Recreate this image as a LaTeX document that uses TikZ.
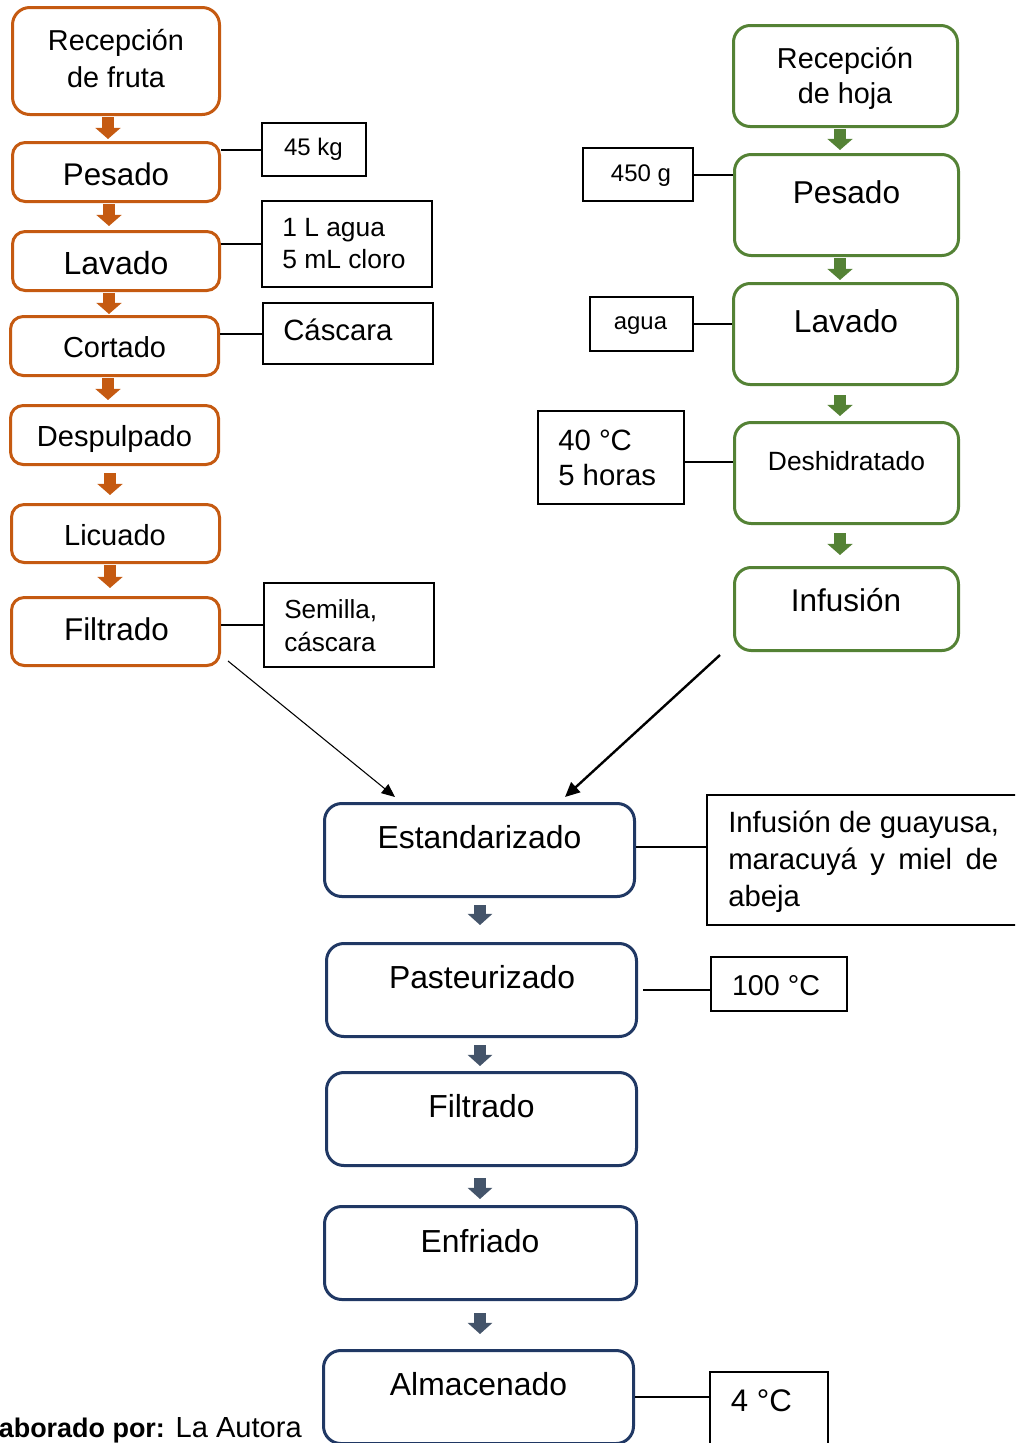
\documentclass[tikz,border=0pt]{standalone}
\usepackage{fontspec}
\setmainfont{Liberation Sans}
\usetikzlibrary{arrows.meta,calc}
\definecolor{ocol}{HTML}{C55A11}
\definecolor{gcol}{HTML}{548235}
\definecolor{bcol}{HTML}{203864}
\definecolor{barcol}{HTML}{44546A}
\tikzset{
  sz/.style 2 args={minimum width={(#1)*0.75pt}, minimum height={(#2)*0.75pt}},
  obox/.style={draw=ocol, line width=2.25pt, rounded corners=9.5pt, inner sep=0pt},
  gbox/.style={draw=gcol, line width=2.25pt, rounded corners=12.5pt, inner sep=0pt},
  bbox/.style={draw=bcol, line width=2.25pt, rounded corners=13pt, inner sep=0pt},
  sbox/.style={draw=black, line width=1.2pt, inner sep=0pt},
  tc/.style={inner sep=0pt, anchor=base},
  tw/.style={inner sep=0pt, anchor=base west},
  fsz/.style={font=\fontsize{#1}{#1}\selectfont},
  link/.style={draw=black, line width=1.5pt},
  oarr/.style={draw=ocol, line width=8.6pt, -{Triangle[width=18.5pt,length=8.3pt]}},
  garr/.style={draw=gcol, line width=8.6pt, -{Triangle[width=18.5pt,length=8.3pt]}},
  barr/.style={draw=barcol, line width=8.6pt, -{Triangle[width=18pt,length=8.3pt]}},
  thinarr/.style={draw=black, line width=0.8pt, -{Triangle[length=10pt,width=8.5pt]}},
  thickarr/.style={draw=black, line width=1.8pt, -{Triangle[length=11pt,width=10pt]}}
}
\begin{document}
\begin{tikzpicture}[x=0.75pt,y=-0.75pt]
\path[use as bounding box] (0,0) rectangle (1015,1443);
\clip (0,0) rectangle (1015,1443);

% ---------- orange column ----------
\node[obox, sz={207}{107}, rounded corners=13pt] (rf) at (116,61) {};
\node[obox, sz={207}{59}] (pf) at (116,172) {};
\node[obox, sz={207}{59}] (lf) at (116,261) {};
\node[obox, sz={208}{59}] (cf) at (114.5,346) {};
\node[obox, sz={208}{59}] (df) at (114.5,435) {};
\node[obox, sz={208}{58}] (lif) at (115.5,533.5) {};
\node[obox, sz={208}{68}] (ff) at (115.5,631.5) {};

\node[tc, fsz=21.6] at (116,50) {Recepción};
\node[tc, fsz=21.6] at (116,87) {de fruta};
\node[tc, fsz=23.5] at (116,185) {Pesado};
\node[tc, fsz=24] at (116,274) {Lavado};
\node[tc, fsz=21.7] at (114.5,357) {Cortado};
\node[tc, fsz=21.8] at (114.5,446) {Despulpado};
\node[tc, fsz=21.8] at (115,545) {Licuado};
\node[tc, fsz=23.6] at (116.5,640) {Filtrado};

\draw[oarr] ($(rf.south)+(-8,1)$) -- ($(pf.north)+(-8,-2)$);
\draw[oarr] ($(pf.south)+(-7,1)$) -- ($(lf.north)+(-7,-4)$);
\draw[oarr] ($(lf.south)+(-7,1)$) -- ($(cf.north)+(-5.5,-1)$);
\draw[oarr] ($(cf.south)+(-6.5,1)$) -- ($(df.north)+(-6.5,-4)$);
\draw[oarr] ($(df.south)+(-4.5,7)$) -- ($(lif.north)+(-5.5,-8)$);
\draw[oarr] ($(lif.south)+(-5.5,1)$) -- ($(ff.north)+(-5.5,-8)$);

% side boxes left
\node[sbox, sz={104}{53}] (s45) at (314,149.5) {};
\node[sbox, sz={170}{86}] (sw) at (347,244) {};
\node[sbox, sz={170}{61}] (sc) at (348,333.5) {};
\node[sbox, sz={170}{84}] (ss) at (349,625) {};

\node[tc, fsz=18] at (313.5,155) {45 kg};
\node[tw, fsz=19.8] at (282,236) {1 L agua};
\node[tw, fsz=19.8] at (282,268) {5 mL cloro};
\node[tw, fsz=22] at (283,340) {Cáscara};
\node[tw, fsz=19.6] at (284,618) {Semilla,};
\node[tw, fsz=19.6] at (284,651.7) {cáscara};

\draw[link] (s45.west) -- (s45.west -| pf.east);
\draw[link] (sw.west) -- (sw.west -| lf.east);
\draw[link] (sc.west) -- (sc.west -| cf.east);
\draw[link] (ss.west) -- (ss.west -| ff.east);

% ---------- green column ----------
\node[gbox, sz={224}{101}] (rh) at (845.5,76) {};
\node[gbox, sz={224}{101}] (ph) at (846.5,205) {};
\node[gbox, sz={224}{101}] (lh) at (845.5,334) {};
\node[gbox, sz={224}{101}] (dh) at (846.5,473) {};
\node[gbox, sz={224}{83}] (ih) at (846.5,609) {};

\node[tc, fsz=21.6] at (845,68.3) {Recepción};
\node[tc, fsz=21.6] at (845,103.3) {de hoja};
\node[tc, fsz=23.7] at (846.5,203.3) {Pesado};
\node[tc, fsz=23.8] at (846,332.7) {Lavado};
\node[tc, fsz=19.8] at (846.5,470.7) {Deshidratado};
\node[tc, fsz=23.6] at (846,611.7) {Infusión};

\draw[garr] ($(rh.south)+(-5.5,1)$) -- ($(ph.north)+(-6.5,-3)$);
\draw[garr] ($(ph.south)+(-6.5,1)$) -- ($(lh.north)+(-5.5,-2)$);
\draw[garr] ($(lh.south)+(-5.5,9)$) -- ($(dh.north)+(-6.5,-5)$);
\draw[garr] ($(dh.south)+(-6.5,8)$) -- ($(ih.north)+(-6.5,-11)$);

% side boxes right
\node[sbox, sz={110}{53}] (s450) at (638,174.5) {};
\node[sbox, sz={103}{54}] (sa) at (641.5,324) {};
\node[sbox, sz={146}{93}] (s40) at (611,457.5) {};

\node[tc, fsz=18] at (641,181.7) {450 g};
\node[tc, fsz=17.9] at (640.5,329.3) {agua};
\node[tw, fsz=22] at (558,450) {40 °C};
\node[tw, fsz=22] at (558,485) {5 horas};

\draw[link] (s450.east) -- (s450.east -| ph.west);
\draw[link] (sa.east) -- (sa.east -| lh.west);
\coordinate (c40) at ($(s40.east)+(0,4.5)$);
\draw[link] (c40) -- (c40 -| dh.west);

% ---------- blue column ----------
\node[bbox, sz={310}{93}] (es) at (479.5,850) {};
\node[bbox, sz={310}{93}] (pa) at (481.5,990) {};
\node[bbox, sz={310}{93}] (fi) at (481.5,1119) {};
\node[bbox, sz={312}{93}] (en) at (480.5,1253) {};
\node[bbox, sz={310}{93}] (al) at (478.5,1397) {};

\node[tc, fsz=23.9] at (479.5,848.3) {Estandarizado};
\node[tc, fsz=23.9] at (482,988.5) {Pasteurizado};
\node[tc, fsz=23.9] at (481.5,1117.5) {Filtrado};
\node[tc, fsz=23.9] at (480,1252.3) {Enfriado};
\node[tc, fsz=23.9] at (478.5,1395.5) {Almacenado};

\draw[barr] ($(es.south)+(0.5,7)$) -- ($(pa.north)+(-1.5,-17)$);
\draw[barr] ($(pa.south)+(-1.5,7)$) -- ($(fi.north)+(-1.5,-5)$);
\draw[barr] ($(fi.south)+(-1.5,11)$) -- ($(en.north)+(-0.5,-6)$);
\draw[barr] ($(en.south)+(-0.5,12)$) -- ($(al.north)+(1.5,-15)$);

\node[sbox, sz={323}{130}] (si) at (868.5,860) {};
\node[sbox, sz={136}{54}] (s100) at (779,984) {};
\node[sbox, sz={118}{88}] (s4) at (769,1416) {};

\node[tw, fsz=22] at (728,832.5) {Infusión de guayusa,};
\node[tw, fsz=22] at (728,869.5) {\makebox[202.5pt][s]{maracuyá y miel de}};
\node[tw, fsz=22] at (728,906.5) {abeja};
\node[tc, fsz=21.5] at (776,995) {100 °C};
\node[tc, fsz=23.4] at (761.5,1411) {4 °C};

\draw[link] ($(es.east)+(0,-3)$) -- ($(es.east -| si.west)+(0,-3)$);
\draw[link] ($(pa.east)+(5,0)$) -- (pa.east -| s100.west);
\draw[link] (al.east) -- (al.east -| s4.west);

% ---------- joining arrows ----------
\draw[thinarr] ($(ff.south east)+(7,-6)$) -- ($(es.north)+(-84.5,-5)$);
\draw[thickarr] ($(ih.south west)+(-13,3)$) -- ($(es.north)+(85.5,-5)$);

% ---------- footer ----------
\node[inner sep=0pt, anchor=base east, fsz=21.8] (foot) at (302,1437) {{\fontsize{20.2}{20.2}\selectfont\bfseries Elaborado por:} La Autora};
\end{tikzpicture}
\end{document}
